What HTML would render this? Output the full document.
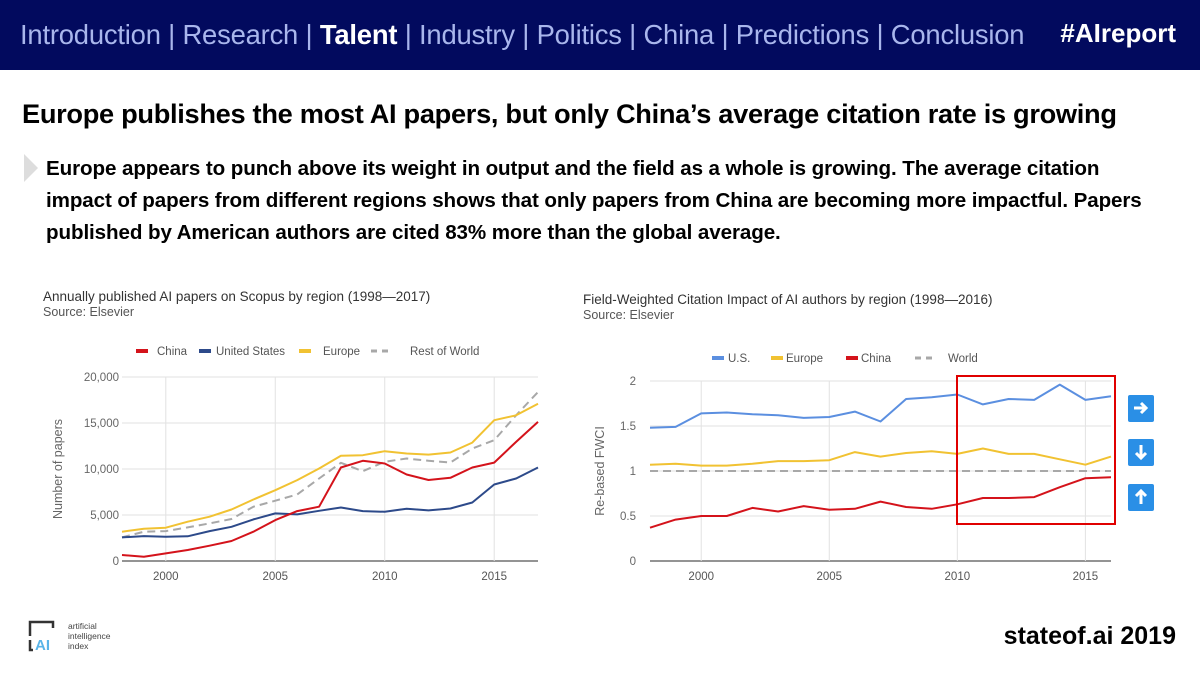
<!DOCTYPE html>
<html><head><meta charset="utf-8">
<style>
body{margin:0;width:1200px;height:675px;overflow:hidden;background:#fff;font-family:"Liberation Sans",sans-serif;position:relative}
.abs{position:absolute;white-space:nowrap}
#hdr{left:0;top:0;width:1200px;height:70px;background:#020a5e}
#nav{left:20px;top:19px;font-size:27.4px;color:#a9b6ec;letter-spacing:-0.2px}
#nav b{color:#fff}
#tag{right:24px;top:18px;font-size:26px;color:#fff;font-weight:bold}
#title{left:22px;top:98px;font-size:27.2px;font-weight:bold;color:#000;letter-spacing:-0.3px}
#body{left:46px;top:153px;font-size:20.6px;font-weight:bold;color:#000;line-height:32px;letter-spacing:-0.1px}
#tri{left:24px;top:154px;width:0;height:0;border-top:14px solid transparent;border-bottom:14px solid transparent;border-left:14px solid #ddd}
#footer{right:24px;top:622px;font-size:25px;font-weight:bold;color:#000}
svg text{font-family:"Liberation Sans",sans-serif}
</style></head><body>
<div class="abs" id="hdr"></div>
<div class="abs" id="nav">Introduction | Research | <b>Talent</b> | Industry | Politics | China | Predictions | Conclusion</div>
<div class="abs" id="tag">#AIreport</div>
<div class="abs" id="title">Europe publishes the most AI papers, but only China’s average citation rate is growing</div>
<div class="abs" id="tri"></div>
<div class="abs" id="body">Europe appears to punch above its weight in output and the field as a whole is growing. The average citation<br>impact of papers from different regions shows that only papers from China are becoming more impactful. Papers<br>published by American authors are cited 83% more than the global average.</div>
<div class="abs" id="footer">stateof.ai 2019</div>

<svg class="abs" style="left:0;top:0" width="1200" height="675" id="charts">
<g>
<path d="M30 636 V622 H53 V628" fill="none" stroke="#333" stroke-width="2.5"/>
<path d="M30 640 V650 H33" fill="none" stroke="#333" stroke-width="2.5"/>
<text x="35" y="650" font-size="15" font-weight="bold" fill="#5ab4e8">AI</text>
<text x="68" y="629" font-size="8.5" fill="#444">artificial</text>
<text x="68" y="639" font-size="8.5" fill="#444">intelligence</text>
<text x="68" y="649" font-size="8.5" fill="#444">index</text>
</g>
</svg>

<script>
const leftYears=[1998,1999,2000,2001,2002,2003,2004,2005,2006,2007,2008,2009,2010,2011,2012,2013,2014,2015,2016,2017];
const leftChina=[650,470,830,1200,1660,2170,3180,4450,5420,5900,10160,10890,10600,9400,8800,9040,10160,10700,12950,15120];
const leftUS=[2570,2710,2640,2680,3250,3720,4520,5170,5060,5460,5820,5420,5350,5680,5500,5710,6360,8320,8970,10160];
const leftEurope=[3180,3500,3620,4270,4810,5600,6690,7700,8790,10050,11430,11500,11930,11680,11570,11790,12870,15300,15840,17100];
const leftROW=[2570,3180,3250,3650,4090,4560,5900,6550,7230,8970,10670,9760,10780,11140,10890,10710,12230,13130,15840,18370];
const leftYTicks=[0,5000,10000,15000,20000];
const leftYTickLabels=["0","5,000","10,000","15,000","20,000"];
const leftXTicks=[2000,2005,2010,2015];

const rightYears=[1998,1999,2000,2001,2002,2003,2004,2005,2006,2007,2008,2009,2010,2011,2012,2013,2014,2015,2016];
const rightUS=[1.48,1.49,1.64,1.65,1.63,1.62,1.59,1.60,1.66,1.55,1.80,1.82,1.85,1.74,1.80,1.79,1.96,1.79,1.83];
const rightEurope=[1.07,1.08,1.06,1.06,1.08,1.11,1.11,1.12,1.21,1.16,1.20,1.22,1.19,1.25,1.19,1.19,1.13,1.07,1.16];
const rightChina=[0.37,0.46,0.50,0.50,0.59,0.55,0.61,0.57,0.58,0.66,0.60,0.58,0.63,0.70,0.70,0.71,0.82,0.92,0.93];
const rightWorld=[1,1,1,1,1,1,1,1,1,1,1,1,1,1,1,1,1,1,1];
const rightYTicks=[0,0.5,1,1.5,2];
const rightYTickLabels=["0","0.5","1","1.5","2"];
const rightXTicks=[2000,2005,2010,2015];

const NS="http://www.w3.org/2000/svg";
const svg=document.getElementById('charts');
function mk(tag,attrs,parent){const e=document.createElementNS(NS,tag);for(const k in attrs)e.setAttribute(k,attrs[k]);(parent||svg).appendChild(e);return e;}
function txt(x,y,s,size,fill,anchor,parent){const t=mk('text',{x:x,y:y,'font-size':size,fill:fill,'text-anchor':anchor||'start'},parent);t.textContent=s;return t;}

function chart(cfg){
  const g=mk('g',{});
  
  
  const x=v=>cfg.x0+(v-cfg.xmin)*(cfg.x1-cfg.x0)/(cfg.xmax-cfg.xmin);
  const y=v=>cfg.y0-(v-cfg.ymin)*(cfg.y0-cfg.y1)/(cfg.ymax-cfg.ymin);
  const t1=txt(cfg.tx,cfg.ty,cfg.title,13.5,'#333','start',g);
  
  
  const t2=txt(cfg.tx,cfg.ty+15,'Source: Elsevier',12.5,'#555','start',g);
  
  
  cfg.yTicks.forEach((v,i)=>{
    const l=mk('line',{x1:cfg.x0,x2:cfg.x1,y1:y(v),y2:y(v),stroke:i==0?'#555':'#e2e2e2','stroke-width':i==0?1.2:1},g);
    
    
    const t=txt(cfg.x0-cfg.ylabOff,y(v)+4,cfg.yLabels[i],11.5,'#666','end',g);
    
    
  });
  cfg.xTicks.forEach(v=>{
    const l=mk('line',{x1:x(v),x2:x(v),y1:cfg.y1,y2:cfg.y0,stroke:'#e2e2e2'},g);
    
    
    const t=txt(x(v),cfg.y0+19,String(v),11.5,'#555','middle',g);
    
    
  });
  const yt=txt(0,0,cfg.ytitle,12.5,'#666','middle',g);
  yt.setAttribute('transform','translate('+cfg.ytx+','+((cfg.y0+cfg.y1)/2)+') rotate(-90)');
  
  
  cfg.series.forEach(s=>{
    const d=s.vals.map((v,i)=>(i?'L':'M')+x(cfg.years[i]).toFixed(1)+' '+y(v).toFixed(1)).join(' ');
    const p=mk('path',{d:d,fill:'none',stroke:s.color,'stroke-width':2,'stroke-linejoin':'round'},g);
    if(s.dash)p.setAttribute('stroke-dasharray','8 5');
    
    
  });
  cfg.legend.forEach(L=>{
    const lg=mk('g',{},g);
    
    
    if(L.dash){mk('line',{x1:L.x,x2:L.x+22,y1:cfg.ly-4,y2:cfg.ly-4,stroke:L.color,'stroke-width':3,'stroke-dasharray':'6 5'},lg);}
    else mk('rect',{x:L.x,y:cfg.ly-6,width:L.w||12,height:4,fill:L.color},lg);
    txt(L.tx,cfg.ly,L.label,11.5,'#555','start',lg);
  });
  return {x,y,g};
}

chart({name:'papers-chart',title:'Annually published AI papers on Scopus by region (1998\u20142017)',tx:43,ty:301,
  x0:122,x1:538,xmin:1998,xmax:2017,y0:561,y1:377,ymin:0,ymax:20000,ylabOff:3,ytx:62,ytitle:'Number of papers',
  years:leftYears,yTicks:leftYTicks,yLabels:leftYTickLabels,xTicks:leftXTicks,
  series:[{key:'rest-of-world',vals:leftROW,color:'#a8a8a8',dash:true},{key:'united-states',vals:leftUS,color:'#2d4a8a'},{key:'europe',vals:leftEurope,color:'#f1c232'},{key:'china',vals:leftChina,color:'#d4131b'}],
  ly:355,legend:[{key:'china',x:136,tx:157,label:'China',color:'#d4131b'},{key:'united-states',x:199,tx:216,label:'United States',color:'#2d4a8a'},{key:'europe',x:299,tx:323,label:'Europe',color:'#f1c232'},{key:'rest-of-world',x:371,tx:410,label:'Rest of World',color:'#a8a8a8',dash:true}]});

const R=chart({name:'fwci-chart',title:'Field-Weighted Citation Impact of AI authors by region (1998\u20142016)',tx:583,ty:304,
  x0:650,x1:1111,xmin:1998,xmax:2016,y0:561,y1:381,ymin:0,ymax:2,ylabOff:14,ytx:604,ytitle:'Re-based FWCI',
  years:rightYears,yTicks:rightYTicks,yLabels:rightYTickLabels,xTicks:rightXTicks,
  series:[{key:'world',vals:rightWorld,color:'#a8a8a8',dash:true},{key:'us',vals:rightUS,color:'#5b8fe0'},{key:'europe',vals:rightEurope,color:'#f1c232'},{key:'china',vals:rightChina,color:'#d4131b'}],
  ly:362,legend:[{key:'us',x:712,tx:728,label:'U.S.',color:'#5b8fe0'},{key:'europe',x:771,tx:786,label:'Europe',color:'#f1c232'},{key:'china',x:846,tx:861,label:'China',color:'#d4131b'},{key:'world',x:915,tx:948,label:'World',color:'#a8a8a8',dash:true}]});

const hl=mk('rect',{x:957,y:376,width:158,height:148,fill:'none',stroke:'#e00000','stroke-width':2});



const arrows=[['arrow-right-icon',395,'M6 13 H17 M13 8 L18 13 L13 18'],['arrow-down-icon',439,'M13 6 V19 M8 14 L13 19 L18 14'],['arrow-up-icon',484,'M13 20 V7 M8 12 L13 7 L18 12']];
arrows.forEach(a=>{
  const g=mk('g',{transform:'translate(1128,'+a[1]+')'});
  
  
  mk('rect',{x:0,y:0,width:26,height:27,rx:2,fill:'#2a8fe6'},g);
  mk('path',{d:a[2],stroke:'#fff','stroke-width':3,fill:'none'},g);
});
</script>
</body></html>
